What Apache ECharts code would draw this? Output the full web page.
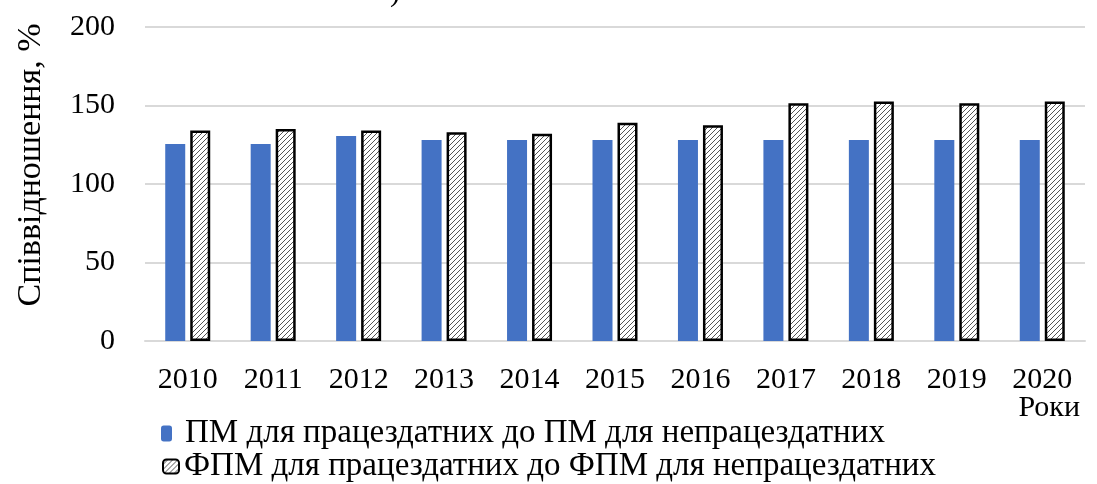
<!DOCTYPE html>
<html>
<head>
<meta charset="utf-8">
<script src="https://cdn.jsdelivr.net/npm/echarts@6/dist/echarts.min.js"></script>
<style>
  html, body { margin: 0; padding: 0; background: #fff; }
  #chart { width: 1097px; height: 484px; }
</style>
</head>
<body>
<div id="chart"></div>
<script>
var years = ['2010', '2011', '2012', '2013', '2014', '2015', '2016', '2017', '2018', '2019', '2020'];
var pmValues = [125.5, 125.5, 130.5, 128, 128, 128, 128, 128, 128, 128, 128];
var fpmValues = [134, 135, 134, 133, 132, 139, 137.5, 151.5, 152.5, 151.5, 152.5];
var seriesNames = ['ПМ для працездатних до ПМ для непрацездатних', 'ФПМ для працездатних до ФПМ для непрацездатних'];

var font = 'Liberation Serif';

// diagonal hatch for the second series
var hatch = document.createElement('canvas');
hatch.width = 5;
hatch.height = 5;
var ctx = hatch.getContext('2d');
ctx.fillStyle = '#fff';
ctx.fillRect(0, 0, 5, 5);
ctx.strokeStyle = '#555';
ctx.lineWidth = 1;
ctx.beginPath();
ctx.moveTo(0, 5);
ctx.lineTo(5, 0);
ctx.moveTo(-1, 1);
ctx.lineTo(1, -1);
ctx.moveTo(4, 6);
ctx.lineTo(6, 4);
ctx.stroke();

var chart = echarts.init(document.getElementById('chart'));

chart.setOption({
    animation: false,
    grid: {
        left: 145,
        right: 12,
        top: 27,
        bottom: 143,
    },
    legend: [
        {
            left: 161,
            top: 417,
            padding: 0,
            itemWidth: 11,
            itemHeight: 16,
            textStyle: {
                fontFamily: font,
                fontSize: 33,
                color: '#000',
                padding: [0, 0, 0, 8],
            },
            data: [seriesNames[0]],
        },
        {
            left: 162,
            top: 450,
            padding: 0,
            itemWidth: 16,
            itemHeight: 14,
            textStyle: {
                fontFamily: font,
                fontSize: 33,
                color: '#000',
                padding: [0, 0, 0, 0],
            },
            data: [seriesNames[1]],
        },
    ],
    xAxis: {
        type: 'category',
        data: years,
        axisLine: {
            lineStyle: { color: '#d9d9d9', width: 2 },
        },
        axisTick: { show: false },
        axisLabel: {
            fontFamily: font,
            fontSize: 30,
            color: '#000',
            margin: 24,
        },
    },
    yAxis: {
        type: 'value',
        min: 0,
        max: 200,
        interval: 50,
        axisLine: { show: false },
        axisTick: { show: false },
        axisLabel: {
            fontFamily: font,
            fontSize: 30,
            color: '#000',
            margin: 30,
        },
        splitLine: {
            lineStyle: { color: '#d9d9d9', width: 2 },
        },
    },
    graphic: [
        {
            type: 'text',
            rotation: Math.PI / 2,
            x: 31,
            y: 165,
            style: {
                text: 'Співвідношення, %',
                font: '34px "Liberation Serif"',
                fill: '#000',
                align: 'center',
                verticalAlign: 'middle',
            },
        },
        {
            type: 'text',
            right: 17,
            top: 393,
            style: {
                text: 'Роки',
                font: '30px "Liberation Serif"',
                fill: '#000',
            },
        },
        {
            type: 'text',
            left: 390,
            top: -22,
            style: {
                text: ')',
                font: '30px "Liberation Serif"',
                fill: '#000',
            },
        },
    ],
    series: [
        {
            name: seriesNames[0],
            type: 'bar',
            data: pmValues,
            barWidth: 20,
            barGap: '25%',
            itemStyle: {
                color: '#4472c4',
            },
        },
        {
            name: seriesNames[1],
            type: 'bar',
            data: fpmValues,
            barWidth: 20,
            itemStyle: {
                color: { image: hatch, repeat: 'repeat' },
                borderColor: '#000',
                borderWidth: 2.5,
            },
        },
    ],
});

window.addEventListener('resize', function () {
    chart.resize();
});
</script>
</body>
</html>
